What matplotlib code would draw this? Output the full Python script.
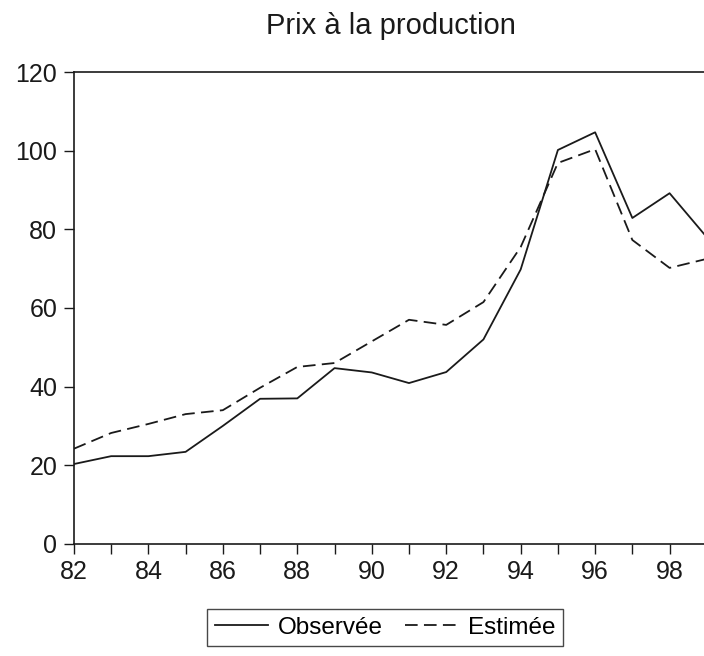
import matplotlib.pyplot as plt
from matplotlib.ticker import MultipleLocator

plt.rcParams['font.family'] = ['Liberation Sans', 'DejaVu Sans']

years = list(range(82, 100))
observee = [20.3, 22.3, 22.3, 23.4, 30.0, 36.9, 37.0, 44.7, 43.6, 40.9,
            43.7, 52.0, 69.8, 100.2, 104.7, 82.9, 89.2, 78.0]
estimee = [24.2, 28.2, 30.5, 33.0, 34.0, 39.7, 45.0, 46.0, 51.5, 57.0,
           55.7, 61.5, 75.5, 96.9, 100.4, 77.3, 70.2, 72.5]

fig = plt.figure(figsize=(7.04, 6.56), dpi=100)
ax = fig.add_axes([0.105, 0.171, 0.899, 0.719])

ax.plot(years, observee, color='#1a1a1a', lw=1.3, label='Observée')
ax.plot(years, estimee, color='#1a1a1a', lw=1.3, linestyle=(0, (7, 3.5)), label='Estimée')

ax.set_xlim(82, 99)
ax.set_ylim(0, 120)
ax.xaxis.set_major_locator(MultipleLocator(2))
ax.xaxis.set_minor_locator(MultipleLocator(1))
ax.yaxis.set_major_locator(MultipleLocator(20))
ax.tick_params(axis='both', which='both', direction='out', length=7, width=1, labelsize=18, colors='#1a1a1a')
ax.tick_params(axis='x', pad=5)
ax.tick_params(axis='y', pad=5)
for s in ax.spines.values():
    s.set_linewidth(1.2)
    s.set_color('#1a1a1a')

fig.text(0.556, 0.948, 'Prix à la production', ha='center', va='baseline', fontsize=21, color='#1a1a1a')

leg = fig.legend(loc='center', bbox_to_anchor=(0.547, 0.043), ncol=2, fontsize=17.5,
                 frameon=True, fancybox=False, handlelength=2.2, columnspacing=0.9,
                 handletextpad=0.4, borderpad=0.3)
leg.get_frame().set_edgecolor('#1a1a1a')
leg.get_frame().set_linewidth(1.0)

fig.savefig('out.png', dpi=100)
